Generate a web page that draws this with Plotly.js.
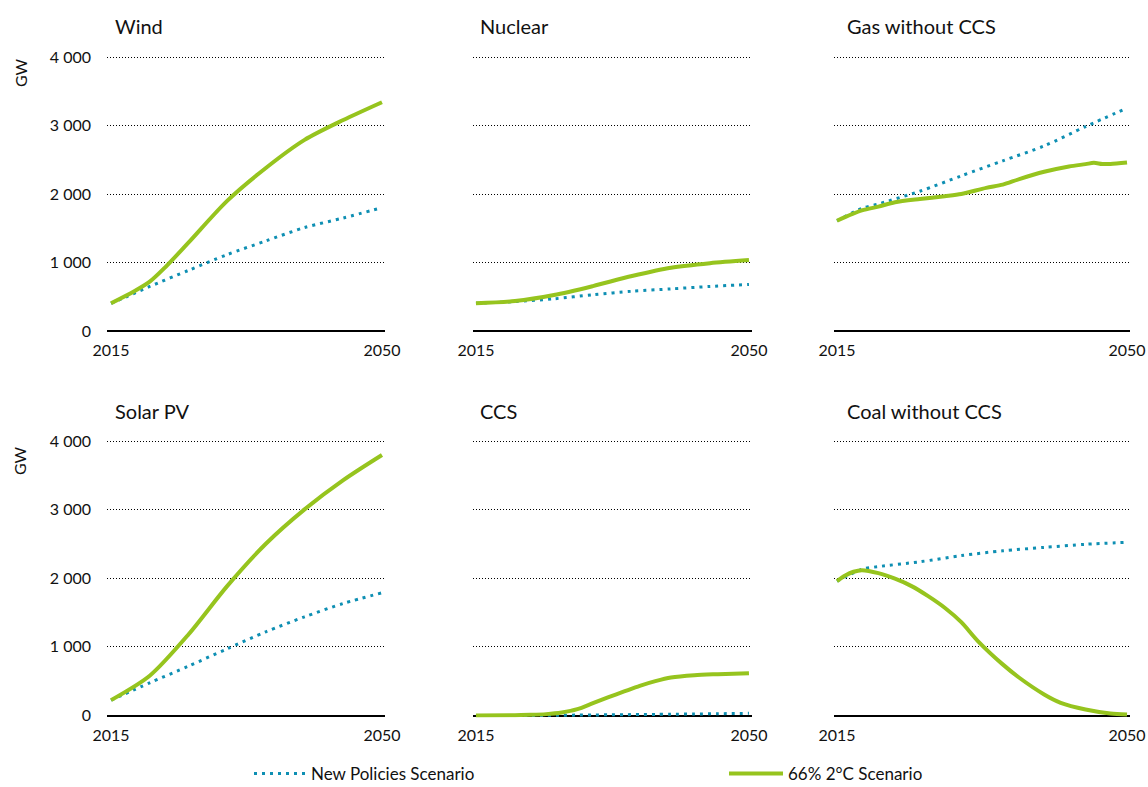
<!DOCTYPE html>
<html>
<head>
<meta charset="utf-8">
<script src="https://cdn.plot.ly/plotly-3.0.1.min.js"></script>
<style>html,body{margin:0;padding:0;background:#fff}#chart{width:1148px;height:787px}</style>
</head>
<body>
<div id="chart"></div>
<script>
// ---------- data (GW) ----------
const panelTitles = ["Wind", "Nuclear", "Gas without CCS", "Solar PV", "CCS", "Coal without CCS"];
const seriesNames = ["New Policies Scenario", "66% 2°C Scenario"];
const xTickVals = [2015, 2050];
const xTickText = ["2015", "2050"];
const yTickVals = [0, 1000, 2000, 3000, 4000];
const yTickText = ["0", "1 000", "2 000", "3 000", "4 000"];
const yUnit = "GW";

const windYearsNPS = [2015, 2017, 2020, 2025, 2030, 2035, 2040, 2045, 2050];
const windNPS      = [404, 500, 650, 885, 1115, 1315, 1510, 1650, 1800];
const windYearsSDS = [2015, 2018, 2020, 2022, 2025, 2030, 2035, 2040, 2045, 2050];
const windSDS      = [404, 580, 720, 930, 1290, 1900, 2380, 2790, 3080, 3340];

const nuclearYears = [2015, 2020, 2025, 2030, 2035, 2040, 2045, 2050];
const nuclearNPS   = [405, 430, 470, 530, 580, 615, 650, 680];
const nuclearSDS   = [405, 437, 525, 656, 802, 923, 990, 1035];

const gasYearsNPS = [2015, 2018, 2020, 2025, 2030, 2035, 2040, 2045, 2050];
const gasNPS      = [1610, 1790, 1855, 2040, 2265, 2484, 2702, 2985, 3255];
const gasYearsSDS = [2015, 2018, 2020, 2022, 2025, 2028, 2030, 2033, 2035, 2037, 2040, 2043, 2045, 2046, 2047, 2048, 2050];
const gasSDS      = [1610, 1760, 1816, 1879, 1927, 1968, 2000, 2090, 2136, 2218, 2324, 2402, 2436, 2455, 2438, 2438, 2460];

const solarYears = [2015, 2020, 2025, 2030, 2035, 2040, 2045, 2050];
const solarNPS   = [224, 476, 719, 972, 1220, 1438, 1633, 1788];
const solarSDS   = [224, 580, 1181, 1886, 2503, 3004, 3430, 3796];

const ccsYears = [2015, 2020, 2022, 2024, 2026, 2028, 2030, 2032, 2034, 2036, 2038, 2040, 2043, 2046, 2050];
const ccsNPS   = [0, 0, 0, 2, 4, 6, 8, 10, 12, 14, 16, 18, 22, 26, 32];
const ccsSDS   = [0, 5, 10, 20, 44, 92, 180, 267, 350, 432, 500, 553, 587, 602, 617];

const coalYearsNPS = [2015, 2018, 2020, 2025, 2030, 2035, 2040, 2045, 2050];
const coalNPS      = [1958, 2130, 2170, 2240, 2330, 2400, 2450, 2495, 2525];
const coalYearsSDS = [2015, 2016, 2017, 2018, 2020, 2022, 2024, 2026, 2028, 2030, 2032, 2035, 2037, 2040, 2042, 2045, 2048, 2050];
const coalSDS      = [1958, 2040, 2095, 2118, 2075, 1993, 1885, 1739, 1570, 1360, 1085, 745, 550, 307, 185, 88, 30, 15];

// ---------- styling ----------
const BLUE = "#0e8fb3";
const GREEN = "#96c41e";
const FONT = "Lato, 'Open Sans', sans-serif";

const panels = [
  {xN: windYearsNPS, yN: windNPS, xS: windYearsSDS, yS: windSDS},
  {xN: nuclearYears, yN: nuclearNPS, xS: nuclearYears, yS: nuclearSDS},
  {xN: gasYearsNPS, yN: gasNPS, xS: gasYearsSDS, yS: gasSDS},
  {xN: solarYears, yN: solarNPS, xS: solarYears, yS: solarSDS},
  {xN: ccsYears, yN: ccsNPS, xS: ccsYears, yS: ccsSDS},
  {xN: coalYearsNPS, yN: coalNPS, xS: coalYearsSDS, yS: coalSDS}
];

const W = 1148, H = 787;
const colDom = [[107, 385], [473, 752], [834, 1130]];
const colRange = [[2014.48, 2050.39], [2014.62, 2050.39], [2014.64, 2050.36]];
const rowDom = [[333.06, 50.15], [717.56, 434.14]]; // bottom px, top px
const titleX = [113, 478, 845];
const titleY = [26, 411];
const gwY = [73, 461];

const legendBase = {
  orientation: "h", xanchor: "left", y: -5 / H, yanchor: "bottom",
  font: {family: FONT, size: 17, color: "#111"},
  borderwidth: 0, bgcolor: "rgba(0,0,0,0)"
};

const traces = [];
const layout = {
  width: W, height: H,
  margin: {l: 0, r: 0, t: 0, b: 0, autoexpand: false},
  paper_bgcolor: "#fff", plot_bgcolor: "#fff",
  font: {family: FONT, color: "#111", size: 16},
  showlegend: true,
  legend: Object.assign({}, legendBase, {x: 249 / W, itemwidth: 52}),
  legend2: Object.assign({}, legendBase, {x: 724 / W, itemwidth: 54}),
  annotations: [],
  hovermode: false
};

panels.forEach((p, i) => {
  const row = Math.floor(i / 3), col = i % 3;
  const n = i + 1;
  const xa = n === 1 ? "x" : "x" + n;
  const ya = n === 1 ? "y" : "y" + n;
  traces.push({
    x: p.xN, y: p.yN, xaxis: xa, yaxis: ya, type: "scatter", mode: "lines",
    name: seriesNames[0], legend: "legend", showlegend: i === 0,
    line: {color: BLUE, width: 3, dash: "3px,5px", shape: "spline", smoothing: 0.8}
  });
  traces.push({
    x: p.xS, y: p.yS, xaxis: xa, yaxis: ya, type: "scatter", mode: "lines",
    name: seriesNames[1], legend: "legend2", showlegend: i === 0,
    line: {color: GREEN, width: 4, shape: "spline", smoothing: 0.8}
  });
  const xKey = n === 1 ? "xaxis" : "xaxis" + n;
  const yKey = n === 1 ? "yaxis" : "yaxis" + n;
  layout[xKey] = {
    domain: [colDom[col][0] / W, colDom[col][1] / W],
    range: colRange[col], anchor: ya,
    showgrid: false, zeroline: false, showline: false,
    tickvals: xTickVals, ticktext: xTickText, ticks: "",
    ticklabelstandoff: 6,
    tickfont: {family: FONT, size: 16, color: "#111"},
    fixedrange: true
  };
  layout[yKey] = {
    domain: [1 - rowDom[row][0] / H, 1 - rowDom[row][1] / H],
    range: [-30, 4100], anchor: xa,
    showgrid: true, gridcolor: "#000", gridwidth: 1, griddash: "1px,2px",
    zeroline: true, zerolinecolor: "#000", zerolinewidth: 2,
    showline: false, ticks: "",
    tickvals: yTickVals, ticktext: yTickText,
    showticklabels: col === 0, ticklabelstandoff: 15,
    tickfont: {family: FONT, size: 16, color: "#111"},
    fixedrange: true
  };
  layout.annotations.push({
    text: panelTitles[i], xref: "paper", yref: "paper",
    x: titleX[col] / W, y: 1 - titleY[row] / H, xanchor: "left", yanchor: "middle",
    showarrow: false, font: {family: FONT, size: 20, color: "#111"}
  });
  if (col === 0) {
    layout.annotations.push({
      text: yUnit, xref: "paper", yref: "paper",
      x: 20 / W, y: 1 - gwY[row] / H, xanchor: "center", yanchor: "middle",
      textangle: -90, showarrow: false, font: {family: FONT, size: 16, color: "#111"}
    });
  }
});

Plotly.newPlot("chart", traces, layout, {displayModeBar: false, staticPlot: true});
</script>
</body>
</html>
